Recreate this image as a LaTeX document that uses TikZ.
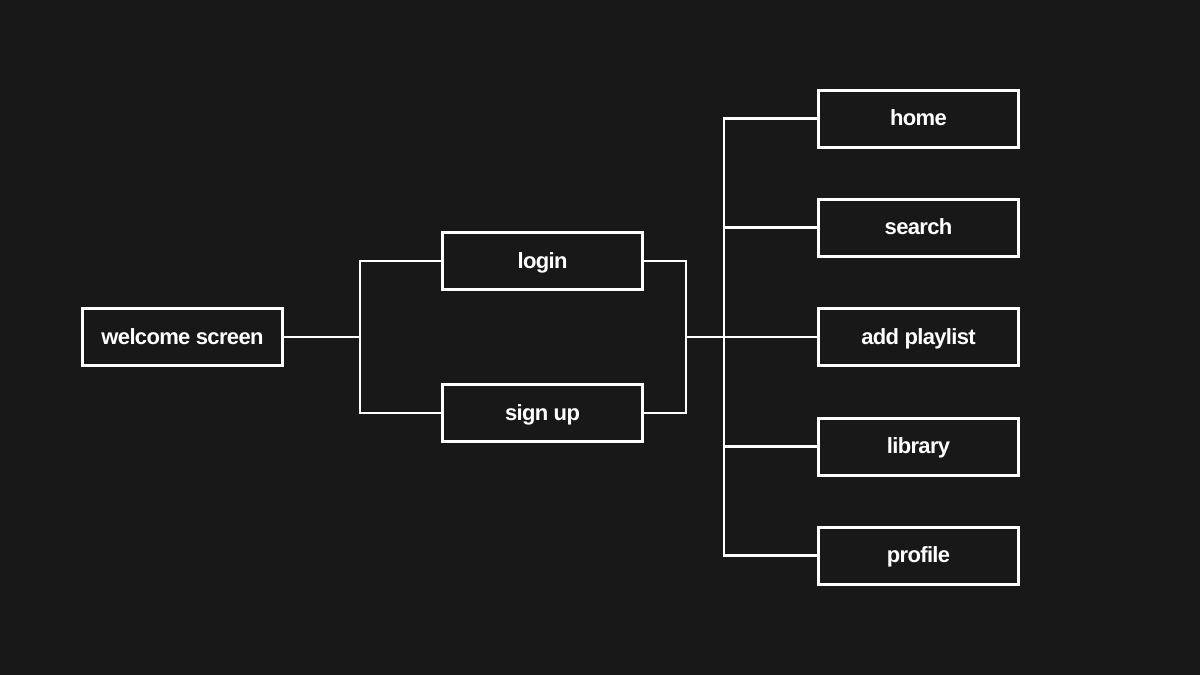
\documentclass[tikz,border=0pt]{standalone}
\usepackage{fontspec}
\setmainfont{Liberation Sans}[LetterSpace=-3]
\begin{document}
\begin{tikzpicture}[x=1pt,y=-1pt,
  box/.style={draw=white, line width=3pt, fill=bgc, minimum width=200pt, minimum height=57pt, inner sep=0pt,
    text height=14pt, text depth=0pt,
    font=\fontsize{22}{24}\selectfont\bfseries, text=white},
  conn/.style={draw=white, line width=2.3pt, line join=miter}]
\definecolor{bgc}{HTML}{181818}
\fill[bgc] (0,0) rectangle (1200,675);
\useasboundingbox (0,0) rectangle (1200,675);
\node[box] (welcome) at (182.5,337) {welcome screen};
\node[box] (login) at (542.5,261) {login};
\node[box] (signup) at (542.5,413) {sign up};
\node[box] (home) at (918.5,118.5) {home};
\node[box] (search) at (918.5,227.5) {search};
\node[box] (addpl) at (918.5,337) {add playlist};
\node[box] (library) at (918.5,446.5) {library};
\node[box] (profile) at (918.5,555.5) {profile};
\coordinate (j1) at (360,337);
\coordinate (j2) at (686,337);
\coordinate (j3) at (724,337);
\draw[conn] (welcome.east) -- (j1);
\draw[conn] (login.west) -| (j1) |- (signup.west);
\draw[conn] (login.east) -| (j2) |- (signup.east);
\draw[conn] (j2) -- (addpl.west);
\draw[conn] (home.west) -| (j3) |- (profile.west);
\draw[conn] (search.west) -- (search.west -| j3);
\draw[conn] (library.west) -- (library.west -| j3);
\end{tikzpicture}
\end{document}
